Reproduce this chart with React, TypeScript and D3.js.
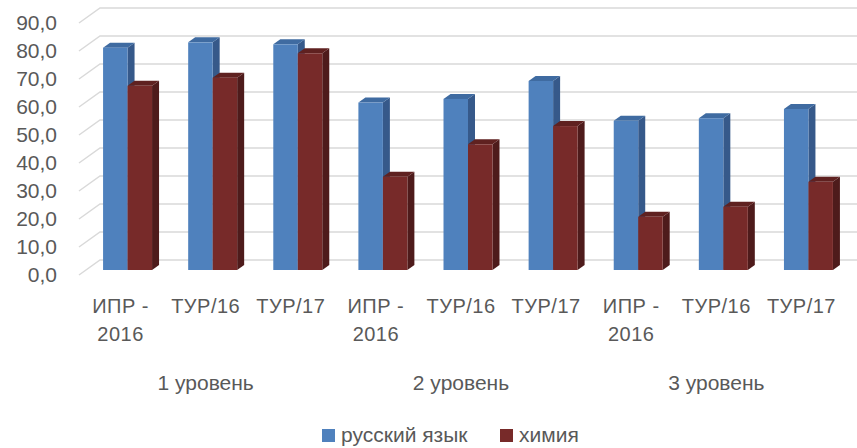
import React from "react";
import * as d3 from "d3";

const levels = ["1 уровень", "2 уровень", "3 уровень"];
const tests = [["ИПР -", "2016"], ["ТУР/16"], ["ТУР/17"]];
const seriesNames = ["русский язык", "химия"];
const russian = [79.4, 81.3, 80.6, 59.8, 61.1, 67.5, 53.3, 54.2, 57.5];
const chemistry = [65.8, 68.7, 77.4, 33.3, 44.9, 51.4, 19.0, 22.6, 31.5];
const yTicks = [0, 10, 20, 30, 40, 50, 60, 70, 80, 90];

const width = 857;
const height = 448;
const depth = { dx: 21, dy: -15 }; // front -> back wall offset
const font = "'Liberation Sans', Arial, sans-serif";
const textColor = "#595959";

const colors = [
  { front: "#4f81bd", side: "#36598a", top: "#3f6ba1" },
  { front: "#772a29", side: "#4e1b1b", top: "#5f2120" },
];

const categories = levels.flatMap((lv, i) => tests.map((t, j) => `${i}-${j}`));

export default function App() {
  const x = d3.scaleBand<string>()
    .domain(categories)
    .range([78, 844])
    .paddingInner(0.4245)
    .paddingOuter(0.2123);

  const xSub = d3.scaleBand<number>()
    .domain([0, 1])
    .range([0, x.bandwidth()]);

  const y = d3.scaleLinear().domain([0, 90]).range([275, 23]);

  const fmt = (v: number) => d3.format(".1f")(v).replace(".", ",");

  // bars sit between 1/3 and 2/3 of the floor depth
  const b0 = { dx: depth.dx / 3, dy: depth.dy / 3 };
  const bd = { dx: depth.dx / 3, dy: depth.dy / 3 };

  const bar = (x0: number, w: number, v: number, c: typeof colors[0], key: string) => {
    const left = x0 + b0.dx;
    const right = left + w;
    const top = y(v) + b0.dy;
    const bottom = y(0) + b0.dy;
    return (
      <g key={key}>
        <path
          d={`M${right},${bottom}L${right + bd.dx},${bottom + bd.dy}L${right + bd.dx},${top + bd.dy}L${right},${top}Z`}
          fill={c.side}
        />
        <path
          d={`M${left},${top}L${left + bd.dx},${top + bd.dy}L${right + bd.dx},${top + bd.dy}L${right},${top}Z`}
          fill={c.top}
        />
        <rect x={left} y={top} width={w} height={bottom - top} fill={c.front} />
      </g>
    );
  };

  return (
    <svg
      width={width}
      height={height}
      style={{ position: "absolute", left: 0, top: 0, background: "#fff" }}
      fontFamily={font}
    >
      {/* grid: side wall diagonals + back wall lines */}
      {yTicks.map((t) => (
        <path
          key={t}
          d={`M${x.range()[0] + 1},${y(t)}L${x.range()[0] + depth.dx + 1},${y(t) + depth.dy}L${width},${y(t) + depth.dy}`}
          fill="none"
          stroke="#d9d9d9"
          strokeWidth={1.5}
        />
      ))}

      {yTicks.map((t) => (
        <text
          key={t}
          x={57}
          y={y(t)}
          dy="0.35em"
          textAnchor="end"
          fontSize={21}
          fill={textColor}
        >
          {fmt(t)}
        </text>
      ))}

      {categories.map((c, i) => (
        <g key={c}>
          {bar(x(c)! + xSub(0)!, xSub.bandwidth(), russian[i], colors[0], "r")}
          {bar(x(c)! + xSub(1)!, xSub.bandwidth(), chemistry[i], colors[1], "c")}
        </g>
      ))}

      {categories.map((c, i) => {
        const lines = tests[i % tests.length];
        const cx = x(c)! + x.bandwidth() / 2;
        return (
          <text key={c} textAnchor="middle" fontSize={20} fill={textColor} letterSpacing={0.5}>
            {lines.map((l, k) => (
              <tspan key={k} x={cx} y={313 + k * 28}>
                {l}
              </tspan>
            ))}
          </text>
        );
      })}

      {levels.map((lv, i) => {
        const mid = categories[i * tests.length + 1];
        return (
          <text
            key={lv}
            x={x(mid)! + x.bandwidth() / 2}
            y={390}
            textAnchor="middle"
            fontSize={21}
            fill={textColor}
          >
            {lv}
          </text>
        );
      })}

      {/* legend */}
      <g>
        <rect x={322} y={429} width={13} height={13} fill={colors[0].front} />
        <text x={341} y={442} fontSize={21} fill={textColor}>
          {seriesNames[0]}
        </text>
        <rect x={500} y={429} width={13} height={13} fill={colors[1].front} />
        <text x={519} y={442} fontSize={21} fill={textColor}>
          {seriesNames[1]}
        </text>
      </g>
    </svg>
  );
}
